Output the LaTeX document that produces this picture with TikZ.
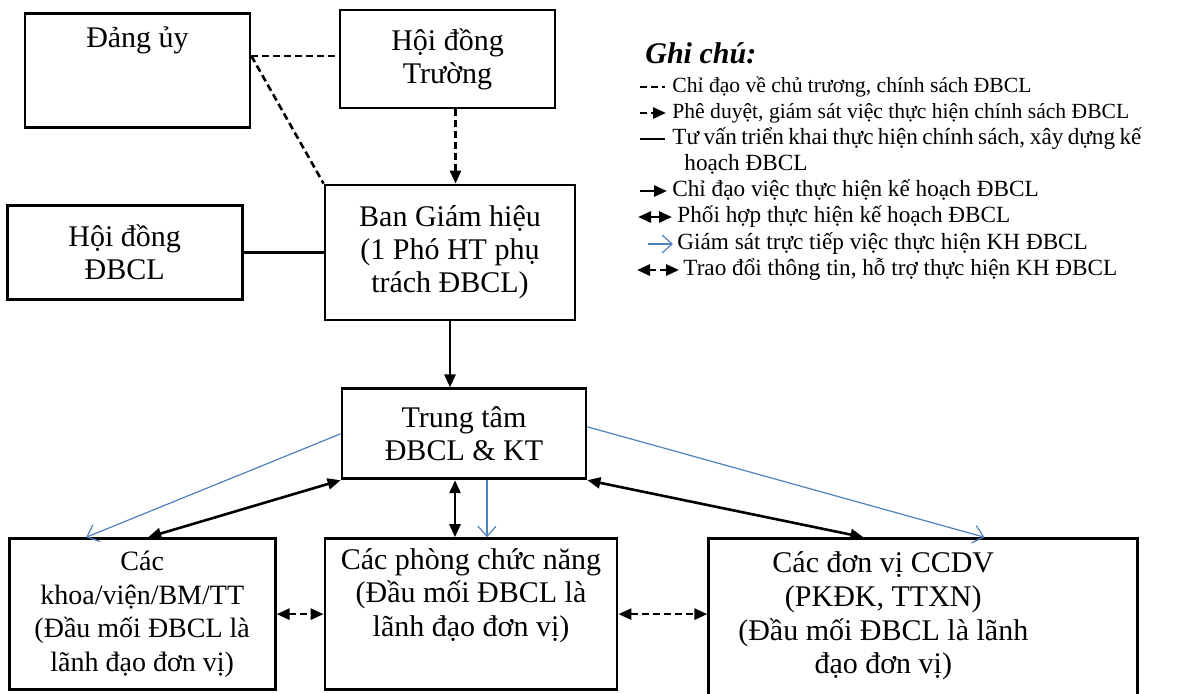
\documentclass[tikz,border=0pt]{standalone}
\usepackage{fontspec}
\setmainfont{Liberation Serif}
\usetikzlibrary{arrows.meta,positioning,calc}
\definecolor{supblue}{RGB}{79,129,189}

\begin{document}
\begin{tikzpicture}[x=0.5pt, y=-0.5pt,
  >={Triangle[length=6.5pt,width=5.5pt]},
  box/.style={draw, line width=1.4pt, align=center, inner sep=0pt, font=\fontsize{15}{16.5}\selectfont},
  plain/.style={line width=1.3pt},
  dashline/.style={line width=1.3pt, dash pattern=on 3.5pt off 2pt},
  supervise/.style={supblue, line width=0.6pt, -{Straight Barb[length=5pt,width=9pt]}},
  legend/.style={anchor=base west, inner sep=0pt, font=\fontsize{11.6}{13}\selectfont}]

  \useasboundingbox (0,0) rectangle (1199,693);

  % top of the chart
  \node[box, anchor=north, minimum width=112.5pt, text height=17pt, text depth=40pt] (dang) at (137.5,12) {Đảng ủy};
  \node[box, minimum width=107.5pt, minimum height=49pt] (hdt) at (447.5,59) {Hội đồng\\Trường};
  \node[box, minimum width=125pt, minimum height=67.5pt] (bgh) at (450,252.5) {Ban Giám hiệu\\(1 Phó HT phụ\\trách ĐBCL)};
  \node[box, minimum width=117.5pt, minimum height=47pt, left=40pt of bgh] (hdbcl) {Hội đồng\\ĐBCL};
  \node[box, minimum width=122pt, minimum height=45pt, below=33pt of bgh, xshift=7pt] (tt) {Trung tâm\\ĐBCL \& KT};

  % units
  \node[box, minimum width=146pt, minimum height=75.5pt, below=28.5pt of tt, xshift=3.5pt, font=\fontsize{15}{16.8}\selectfont] (phong) {Các phòng chức năng\\(Đầu mối ĐBCL là\\lãnh đạo đơn vị)\\\strut};
  \node[box, minimum width=133pt, minimum height=75.5pt, left=23.5pt of phong, font=\fontsize{14}{16.8}\selectfont] (khoa) {Các\\khoa/viện/BM/TT\\(Đầu mối ĐBCL là\\lãnh đạo đơn vị)};
  \node[box, minimum width=214.5pt, minimum height=90pt, right=44.5pt of phong.north east, anchor=north west] (ccdv) {};
  \node[box, draw=none, font=\fontsize{15}{16.8}\selectfont] (ccdvt) at ([xshift=-20pt,yshift=-1pt]ccdv.center |- phong.center) {Các đơn vị CCDV\\(PKĐK, TTXN)\\(Đầu mối ĐBCL là lãnh\\đạo đơn vị)};

  \coordinate (dj) at ([yshift=-22pt]dang.north east);
  \draw[dashline] (dj) -- (dj -| hdt.west);
  \draw[dashline] (dj) -- (bgh.north west);
  \draw[dashline, ->] ([xshift=4pt]hdt.south) -- ([xshift=4pt]hdt.south |- bgh.north);
  \draw[plain] (hdbcl.east) -- (hdbcl.east -| bgh.west);
  \draw[plain, ->] (bgh.south) -- (bgh.south |- tt.north);

  \draw[supervise] (tt.west) -- ([xshift=-28pt]khoa.north);
  \draw[plain, <->] (tt.south west) -- ([xshift=3pt]khoa.north);
  \draw[plain, <->] ([xshift=-4.5pt]tt.south) -- ([xshift=-4.5pt]tt.south |- phong.north);
  \draw[supervise] ([xshift=11.5pt]tt.south) -- ([xshift=11.5pt]tt.south |- phong.north);
  \draw[plain, <->] (tt.south east) -- ([xshift=78pt]ccdv.north west);
  \draw[supervise] ([yshift=3.5pt]tt.east) -- ([xshift=138.5pt]ccdv.north west);
  \draw[dashline, <->] (khoa.east) -- (phong.west);
  \draw[dashline, <->] (phong.east) -- (phong.east -| ccdv.west);

  % legend
  \node[legend, font=\fontsize{15}{17}\selectfont\bfseries\itshape] (note) at (645,63) {Ghi chú:};
  \node[legend, font=\fontsize{10.8}{13}\selectfont] (lg1) at (672,92) {Chỉ đạo về chủ trương, chính sách ĐBCL};
  \node[legend, font=\fontsize{10.8}{13}\selectfont] (lg2) at (672,118) {Phê duyệt, giám sát việc thực hiện chính sách ĐBCL};
  \node[legend] (lg3) at (672,144) {\makebox[234.5pt][s]{Tư vấn triển khai thực hiện chính sách, xây dựng kế}};
  \node[legend] (lg3b) at (684,170) {hoạch ĐBCL};
  \node[legend] (lg4) at (672,196) {Chỉ đạo việc thực hiện kế hoạch ĐBCL};
  \node[legend] (lg5) at (677,222) {Phối hợp thực hiện kế hoạch ĐBCL};
  \node[legend] (lg6) at (677,249) {Giám sát trực tiếp việc thực hiện KH ĐBCL};
  \node[legend] (lg7) at (683,275) {Trao đổi thông tin, hỗ trợ thực hiện KH ĐBCL};

  \draw[dashline] (640,87) coordinate (k1a) -- (665,87) coordinate (k1b);
  \draw[dashline, ->] (640,113) coordinate (k2a) -- (666,113) coordinate (k2b);
  \draw[plain] (640,139) coordinate (k3a) -- (665,139) coordinate (k3b);
  \draw[plain, ->] (640,191) coordinate (k4a) -- (667,191) coordinate (k4b);
  \draw[plain, <->] (638,217) coordinate (k5a) -- (672,217) coordinate (k5b);
  \draw[supervise] (648,244) coordinate (k6a) -- (673,244) coordinate (k6b);
  \draw[dashline, <->] (637,270) coordinate (k7a) -- (679,270) coordinate (k7b);
\end{tikzpicture}
\end{document}
